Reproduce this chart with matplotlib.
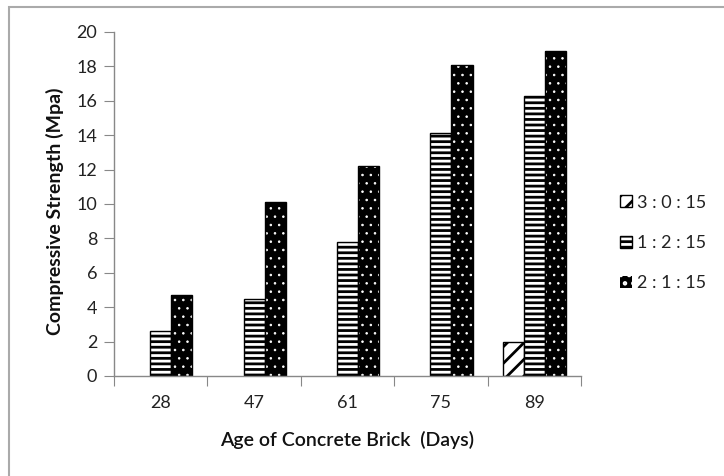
import numpy as np
import matplotlib
matplotlib.use("Agg")
import matplotlib.pyplot as plt
from matplotlib.patches import Rectangle, Patch

# data
ages = ["28", "47", "61", "75", "89"]
mix_a = [0, 0, 0, 0, 2.0]            # 3 : 0 : 15
mix_b = [2.6, 4.5, 7.8, 14.1, 16.3]  # 1 : 2 : 15
mix_c = [4.7, 10.1, 12.2, 18.1, 18.9]  # 2 : 1 : 15
labels = ["3 : 0 : 15", "1 : 2 : 15", "2 : 1 : 15"]

plt.rcParams['font.family'] = ['Lato', 'DejaVu Sans']
plt.rcParams['hatch.linewidth'] = 2.0

fig = plt.figure(figsize=(7.24, 4.76), dpi=100)
ax = fig.add_axes([114/724, 1-376/476, 467/724, 344/476])

x = np.arange(len(ages))
w = 0.226

def thin_hatch(patches, lw):
    for p in patches:
        if hasattr(p, 'set_hatch_linewidth'):
            p.set_hatch_linewidth(lw)

# 3:0:15 diagonal stripes
b1 = ax.bar(x - w, mix_a, w, facecolor='white', edgecolor='black', hatch='//', linewidth=1.0)
# 1:2:15 horizontal stripes
b2 = ax.bar(x, mix_b, w, facecolor='white', edgecolor='black', hatch='---', linewidth=1.0)
# 2:1:15 black with small white dots
with plt.rc_context({'hatch.linewidth': 0.6}):
    b3 = ax.bar(x + w, mix_c, w, facecolor='black', edgecolor='white', hatch='..', linewidth=0)
thin_hatch(b3, 0.6)
ax.bar(x + w, mix_c, w, fill=False, edgecolor='black', linewidth=1.0)

# empty bars are not drawn in the reference
for p in b1:
    if p.get_height() == 0:
        p.set_visible(False)

ax.set_xlim(-0.5, 4.5)
ax.set_ylim(0, 20)
ax.set_yticks(np.arange(0, 21, 2))
ax.set_xticks(np.arange(-0.5, 5, 1))
ax.set_xticklabels([])
ax.set_xticks(x, minor=True)
ax.set_xticklabels(ages, minor=True)
ax.tick_params(axis='x', which='minor', length=0, pad=14, labelsize=13, colors='#222222')
ax.tick_params(axis='x', which='major', length=7, color='#888888')
ax.tick_params(axis='y', length=7, color='#888888', labelsize=13, labelcolor='#222222', pad=5)

for s in ['top', 'right']:
    ax.spines[s].set_visible(False)
for s in ['left', 'bottom']:
    ax.spines[s].set_color('#888888')
    ax.spines[s].set_linewidth(1.0)

ax.set_ylabel("Compressive Strength (Mpa)", fontsize=14, fontweight='bold', color='#111111')
ax.yaxis.set_label_coords(-(114-55)/467, (376-211)/344)
ax.yaxis.label.set_va('center')
ax.set_xlabel("Age of Concrete Brick  (Days)", fontsize=14, fontweight='semibold', color='#111111')
ax.xaxis.set_label_coords(0.5, -(440-376)/344)
ax.xaxis.label.set_va('center')

# legend proxies
h1 = Patch(facecolor='white', edgecolor='black', hatch='//', linewidth=1.0)
h2 = Patch(facecolor='white', edgecolor='black', hatch='---', linewidth=1.0)
with plt.rc_context({'hatch.linewidth': 0.6}):
    h3 = Patch(facecolor='black', edgecolor='white', hatch='..', linewidth=0)
thin_hatch([h3], 0.6)

leg = ax.legend([h1, h2, h3], labels, loc='center left',
                bbox_to_anchor=(620/724, 1-243/476), bbox_transform=fig.transFigure,
                frameon=False, fontsize=13, handlelength=0.65, handleheight=0.65,
                handletextpad=0.3, labelspacing=1.35, borderpad=0, borderaxespad=0)
for t in leg.get_texts():
    t.set_color('#222222')

fig.add_artist(Rectangle((9/724, -0.1), 1.2, 1.1 - 7/476, transform=fig.transFigure,
                         fill=False, edgecolor='#aaaaaa', linewidth=1.5))

fig.savefig("out.png", dpi=100)
